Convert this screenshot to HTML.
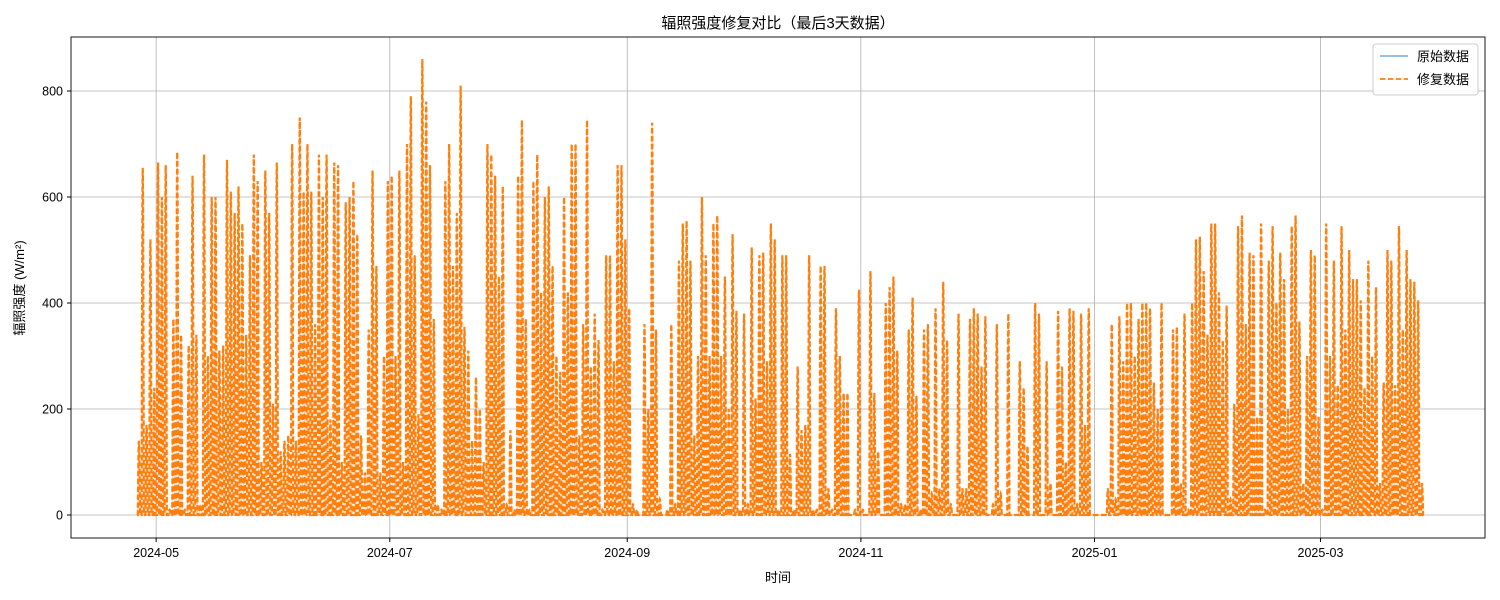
<!DOCTYPE html>
<html><head><meta charset="utf-8">
<style>
body{margin:0;background:#fff;}
svg{display:block;font-family:"Liberation Sans","Noto Sans CJK SC",sans-serif;}
</style></head>
<body>
<svg id="chart" width="1500" height="600" viewBox="0 0 1500 600">
<rect x="0" y="0" width="1500" height="600" fill="#fff"/>
<text x="778" y="28" text-anchor="middle" font-size="15" fill="#000">辐照强度修复对比（最后3天数据）</text>
<g id="grid"></g>
<g id="series"></g>
<rect x="71" y="37" width="1414" height="501" fill="none" stroke="#000" stroke-width="0.9"/>
<g id="ticks"></g>
<text x="778" y="582" text-anchor="middle" font-size="13" fill="#000">时间</text>
<text transform="translate(24,288) rotate(-90)" text-anchor="middle" font-size="13" fill="#000">辐照强度 (W/m²)</text>
<g>
<rect x="1373" y="44" width="105" height="51" rx="3" fill="#fff" fill-opacity="0.85" stroke="#ccc"/>
<g>
<line x1="1380" y1="56" x2="1408" y2="56" stroke="#1f77b4" stroke-opacity="0.6" stroke-width="1.5"/>
<text x="1417" y="61" font-size="13" fill="#000">原始数据</text></g>
<g>
<line x1="1380" y1="79" x2="1408" y2="79" stroke="#ff7f0e" stroke-width="1.8" stroke-dasharray="5.5,2.4"/>
<text x="1417" y="84" font-size="13" fill="#000">修复数据</text></g>
</g>
</svg>
<script>
const startDate = "2024-04-26";
const yTicks = [0, 200, 400, 600, 800];
const xTickLabels = ["2024-05", "2024-07", "2024-09", "2024-11", "2025-01", "2025-03"];
const dailyPeaks = [
140,655,170,520,240,665,600,660,10,370,
685,340,10,320,640,340,20,680,300,600,
600,310,320,670,610,570,620,550,340,490,
680,630,100,650,570,210,665,120,140,150,
700,140,750,610,700,610,360,680,600,680,
180,665,660,100,590,600,630,530,150,80,
350,650,470,80,300,630,640,300,650,100,
700,790,490,190,860,780,660,370,20,10,
630,700,470,570,810,355,310,140,260,200,
100,700,680,640,450,620,20,160,10,640,
745,370,10,630,680,420,600,620,470,300,
270,600,420,700,700,150,360,745,280,380,
330,10,490,490,290,660,660,520,390,20,
10,0,360,200,740,350,30,0,10,360,
20,480,550,555,480,150,300,600,490,300,
550,565,300,450,200,530,385,10,380,20,
505,220,490,495,290,550,520,10,490,490,
115,10,280,160,170,490,10,10,470,470,
50,10,390,300,230,230,0,10,425,10,
0,460,230,120,0,400,430,450,310,20,
20,350,410,225,10,350,360,40,390,50,
440,330,20,0,380,50,50,370,390,380,
280,375,0,20,360,40,0,380,0,0,
290,240,130,0,400,380,0,290,60,0,
385,280,100,390,385,20,380,170,390,0,
0,0,0,50,360,30,375,290,400,400,
300,370,400,400,390,250,200,400,0,0,
350,355,60,380,10,400,520,525,460,340,
550,550,420,330,395,30,210,545,565,360,
495,490,185,550,10,480,545,400,495,445,
200,545,565,365,60,300,500,490,185,10,
550,300,480,245,545,350,500,445,445,405,
240,480,300,430,60,250,500,480,245,545,
350,500,445,440,405,60
];
const DAY_MS = 86400000;
const t0 = Date.parse(startDate + "T00:00:00Z");
const X0 = 137, PX_PER_DAY = 3.83;
function xScale(ms){ return X0 + (ms - t0) / DAY_MS * PX_PER_DAY; }
function yScale(v){ return 515 - v * 0.53; }
const NS = "http://www.w3.org/2000/svg";
const grid = document.getElementById('grid');
const ticks = document.getElementById('ticks');
yTicks.forEach(v=>{
  const y = yScale(v);
  const g = document.createElementNS(NS,'line');
  g.setAttribute('x1',71);g.setAttribute('x2',1485);g.setAttribute('y1',y);g.setAttribute('y2',y);
  g.setAttribute('stroke','#b0b0b0');g.setAttribute('stroke-width','0.8');
  
  
  grid.appendChild(g);
  const tk = document.createElementNS(NS,'line');
  tk.setAttribute('x1',67);tk.setAttribute('x2',71);tk.setAttribute('y1',y);tk.setAttribute('y2',y);tk.setAttribute('stroke','#000');
  
  
  ticks.appendChild(tk);
  const t = document.createElementNS(NS,'text');
  t.setAttribute('x',63);t.setAttribute('y',y+4.5);t.setAttribute('text-anchor','end');t.setAttribute('font-size','12.5');
  t.textContent = v;
  
  
  ticks.appendChild(t);
});
xTickLabels.forEach(lbl=>{
  const x = xScale(Date.parse(lbl + "-01T00:00:00Z"));
  const g = document.createElementNS(NS,'line');
  g.setAttribute('x1',x);g.setAttribute('x2',x);g.setAttribute('y1',37);g.setAttribute('y2',538);
  g.setAttribute('stroke','#b0b0b0');g.setAttribute('stroke-width','0.8');
  
  
  grid.appendChild(g);
  const tk = document.createElementNS(NS,'line');
  tk.setAttribute('x1',x);tk.setAttribute('x2',x);tk.setAttribute('y1',538);tk.setAttribute('y2',542);tk.setAttribute('stroke','#000');
  
  
  ticks.appendChild(tk);
  const t = document.createElementNS(NS,'text');
  t.setAttribute('x',x);t.setAttribute('y',557);t.setAttribute('text-anchor','middle');t.setAttribute('font-size','12.5');
  t.textContent = lbl;
  
  
  ticks.appendChild(t);
});
let d = "";
dailyPeaks.forEach((p,i)=>{
  for(let h=0;h<24;h++){
    let v = 0;
    if(h>5 && h<19){ v = p * Math.sin(Math.PI*(h-5)/14); }
    const x = xScale(t0 + (i + h/24)*DAY_MS);
    d += (d ? "L" : "M") + x.toFixed(2) + "," + yScale(v).toFixed(2);
  }
});
const series = document.getElementById('series');
const orig = document.createElementNS(NS,'path');
orig.setAttribute('d', d);orig.setAttribute('fill','none');orig.setAttribute('stroke','#ff7f0e');orig.setAttribute('stroke-opacity','0.35');orig.setAttribute('stroke-width','1');


series.appendChild(orig);
const rep = document.createElementNS(NS,'path');
rep.setAttribute('d', d);rep.setAttribute('fill','none');rep.setAttribute('stroke','#ff7f0e');rep.setAttribute('stroke-width','2.2');rep.setAttribute('stroke-dasharray','5.5,2.4');


series.appendChild(rep);
</script>
</body></html>
